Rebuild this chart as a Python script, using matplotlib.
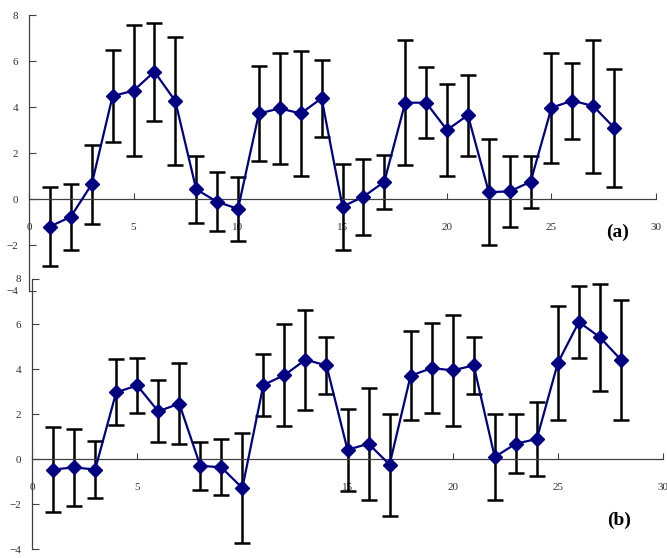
import matplotlib as mpl
import matplotlib.pyplot as plt
import numpy as np

# samples 1..28, panel (a) and (b)
x_vals = np.arange(1, 29)

a_mean = [-1.20, -0.77, 0.64, 4.48, 4.71, 5.54, 4.26, 0.42, -0.12, -0.43,
          3.72, 3.94, 3.72, 4.38, -0.33, 0.10, 0.75, 4.19, 4.19, 3.00,
          3.65, 0.30, 0.33, 0.75, 3.97, 4.28, 4.04, 3.10]
a_err = [1.72, 1.44, 1.71, 1.98, 2.84, 2.13, 2.78, 1.45, 1.28, 1.38,
         2.08, 2.40, 2.72, 1.67, 1.87, 1.66, 1.18, 2.72, 1.54, 2.02,
         1.76, 2.31, 1.56, 1.12, 2.40, 1.65, 2.89, 2.56]

b_mean = [-0.47, -0.37, -0.47, 2.96, 3.27, 2.12, 2.46, -0.30, -0.37, -1.29,
          3.29, 3.73, 4.41, 4.16, 0.41, 0.68, -0.25, 3.70, 4.04, 3.94,
          4.16, 0.09, 0.68, 0.89, 4.27, 6.09, 5.41, 4.41]
b_err = [1.88, 1.70, 1.25, 1.47, 1.24, 1.37, 1.81, 1.07, 1.25, 2.45,
         1.36, 2.26, 2.22, 1.26, 1.82, 2.49, 2.27, 1.97, 2.00, 2.48,
         1.26, 1.91, 1.30, 1.64, 2.55, 1.59, 2.37, 2.67]

x_ticks = [0, 5, 10, 15, 20, 25, 30]
y_ticks = [-4, -2, 0, 2, 4, 6, 8]
panel_labels = ['(a)', '(b)']

mpl.rcParams.update({'font.family': 'Liberation Serif', 'font.size': 8})


def draw_panel(ax, mean, err):
    ax.set_facecolor('none')
    ax.errorbar(x_vals, mean, yerr=err, fmt='none', ecolor='black',
                elinewidth=1.8, capsize=5.8, capthick=1.8, zorder=2,
                clip_on=False)
    ax.plot(x_vals, mean, color='#000080', lw=1.6, marker='D', ms=6.8,
            mfc='#000080', mec='#000080', zorder=3, clip_on=False)
    ax.set_xlim(0, 30)
    ax.set_ylim(-4, 8)
    ax.set_xticks(x_ticks)
    ax.set_yticks(y_ticks)
    ax.spines['top'].set_visible(False)
    ax.spines['right'].set_visible(False)
    ax.spines['bottom'].set_position(('data', 0))
    for s in ('left', 'bottom'):
        ax.spines[s].set_color('#404040')
        ax.spines[s].set_linewidth(0.9)
    ax.tick_params(axis='x', direction='in', length=4, pad=17,
                   color='#404040', labelcolor='#303030')
    ax.tick_params(axis='y', direction='in', length=5, pad=8,
                   color='#404040', labelcolor='#303030')


fig = plt.figure(figsize=(6.67, 5.58), dpi=100)
ax1 = fig.add_axes([0.0435, 0.4785, 0.94, 0.4945])
ax2 = fig.add_axes([0.048, 0.0161, 0.946, 0.4839])

draw_panel(ax1, a_mean, a_err)
draw_panel(ax2, b_mean, b_err)

fig.text(618 / 667, 1 - 232 / 558, panel_labels[0], fontsize=14,
         fontweight='bold', ha='center', va='center')
fig.text(619 / 667, 1 - 520 / 558, panel_labels[1], fontsize=14,
         fontweight='bold', ha='center', va='center')

plt.savefig('out.png', dpi=100)
